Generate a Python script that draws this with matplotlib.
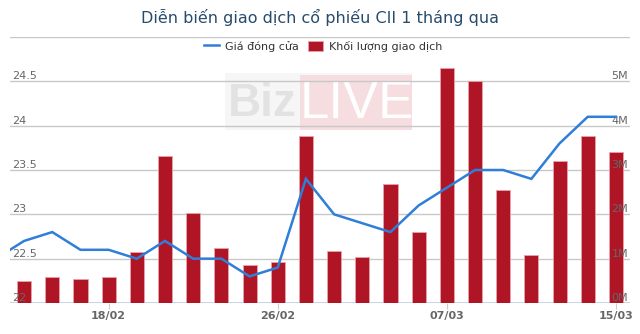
import numpy as np
import matplotlib.pyplot as plt
from matplotlib.lines import Line2D
from matplotlib.patches import Patch, Rectangle

# phiên 0 nằm ngoài khung, chỉ để nối đường giá vào mép trái
gia_dong_cua = [22.5, 22.7, 22.8, 22.6, 22.6, 22.5, 22.7, 22.5, 22.5, 22.3, 22.4, 23.4,
                23.0, 22.9, 22.8, 23.1, 23.3, 23.5, 23.5, 23.4, 23.8, 24.1, 24.1]
khoi_luong = [np.nan, 0.49, 0.58, 0.54, 0.58, 1.16, 3.31, 2.03, 1.23, 0.86, 0.93, 3.76,
              1.18, 1.03, 2.68, 1.60, 5.29, 5.00, 2.54, 1.09, 3.20, 3.77, 3.41]  # triệu cp
nhan_ngay = ['18/02', '26/02', '07/03', '15/03']
vi_tri_ngay = [4, 10, 16, 22]
moc_gia = [22, 22.5, 23, 23.5, 24, 24.5, 25]
moc_kl = [0, 1, 2, 3, 4, 5, 6]

mau_gia = '#2f7ed8'
mau_kl = '#b01525'
mau_chu = '#666666'

W, H = 640, 334
fig = plt.figure(figsize=(6.4, 3.34), dpi=100)

# lớp nền: logo chìm
bg = fig.add_axes([0, 0, 1, 1])
bg.set_xlim(0, W)
bg.set_ylim(H, 0)
bg.axis('off')
bg.add_patch(Rectangle((225, 73), 187, 57, color='#f6f6f6', lw=0))
bg.add_patch(Rectangle((300, 75), 112, 55, color='#f6dde0', lw=0))
bg.text(262, 104, 'Biz', fontsize=33, fontweight='bold', family='Liberation Sans',
        color='#e2e2e2', va='center', ha='center')
bg.text(357, 104, 'LIVE', fontsize=38, family='Liberation Sans',
        color='white', va='center', ha='center')

x = np.arange(len(gia_dong_cua))

ax = fig.add_axes([10 / W, 1 - 303 / H, 620 / W, 266 / H])
ax.patch.set_alpha(0)
ax.bar(x, khoi_luong, width=0.5, color=mau_kl, edgecolor='#e9a3ab', linewidth=0.6, zorder=3)
ax.set_ylim(0, 6)
ax.set_xlim(0.5, 22.5)

ax2 = ax.twinx()
ax2.plot(x, gia_dong_cua, color=mau_gia, lw=1.8, zorder=4, solid_joinstyle='miter')
ax2.set_ylim(22, 25)
ax2.set_xlim(0.5, 22.5)

for a in (ax, ax2):
    for s in a.spines.values():
        s.set_visible(False)
    a.set_yticks([])
    a.tick_params(left=False, right=False, labelleft=False, labelright=False)

# lưới ngang theo trục giá
for v in moc_gia:
    ax.axhline((v - 22) * 2, color='#c8c8c8', lw=1, zorder=1)
ax.axhline(0, color='#c0d0e0', lw=1.2, zorder=2)

for v in moc_gia[:-1]:
    ax2.text(0.57, v, '%g' % v, fontsize=8, color=mau_chu, ha='left', va='bottom', zorder=5)
for v in moc_kl[:-1]:
    ax.text(22.43, v, '%dM' % v, fontsize=8, color=mau_chu, ha='right', va='bottom', zorder=5)

ax.set_xticks(vi_tri_ngay)
ax.set_xticklabels(nhan_ngay, fontsize=8, fontweight='bold', color=mau_chu)
ax.tick_params(axis='x', length=4, color='#c0d0e0', pad=2)

fig.text(0.5, 1 - 17 / H, 'Diễn biến giao dịch cổ phiếu CII 1 tháng qua',
         fontsize=11.5, color='#274b6d', ha='center', va='center')

handles = [Line2D([], [], color=mau_gia, lw=1.8),
           Patch(facecolor=mau_kl, edgecolor='#e9a3ab', lw=0.6)]
fig.legend(handles, ['Giá đóng cửa', 'Khối lượng giao dịch'], loc='center',
           bbox_to_anchor=(323 / W, 1 - 46 / H), ncol=2, frameon=False, fontsize=8,
           handlelength=1.4, handleheight=1.0, handletextpad=0.5, columnspacing=0.8,
           labelcolor='#333333')

fig.savefig('out.png', dpi=100)
